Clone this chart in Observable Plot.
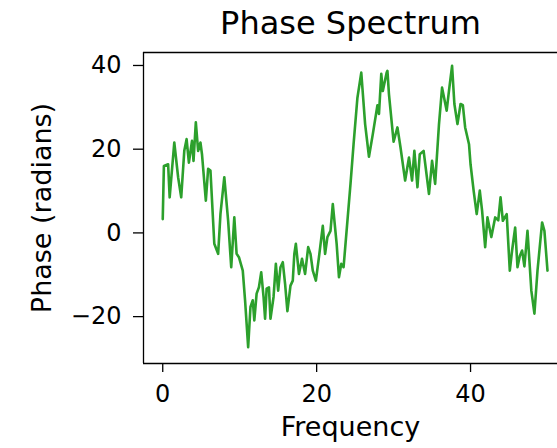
<!DOCTYPE html>
<html><head><meta charset="utf-8">
<script src="https://cdn.jsdelivr.net/npm/d3@7"></script>
<script src="https://cdn.jsdelivr.net/npm/@observablehq/plot@0.6"></script>
<style>html,body{margin:0;padding:0;background:#fff;} svg{display:block}</style>
</head><body><div id="chart"></div>
<script>
const frequency = [0.0,0.15,0.7,0.9,1.5,2.0,2.4,2.8,3.1,3.4,3.8,4.0,4.3,4.6,4.9,5.1,5.6,5.9,6.2,6.7,7.2,7.5,8.0,8.5,8.9,9.3,9.6,9.9,10.4,10.7,11.1,11.4,11.7,11.9,12.2,12.5,12.8,13.1,13.3,13.5,13.8,14.0,14.4,14.7,15.0,15.3,15.6,15.9,16.2,16.6,16.9,17.1,17.3,17.7,18.1,18.5,18.9,19.2,19.5,19.9,20.3,20.8,21.1,21.4,21.8,22.1,22.6,22.9,23.2,23.5,24.4,24.8,25.3,25.8,26.3,26.8,27.3,27.9,28.1,28.4,28.6,29.1,29.2,29.4,30.0,30.5,30.9,31.5,32.0,32.4,32.7,33.1,33.4,33.9,34.6,35.0,35.4,35.9,36.3,36.9,37.2,37.6,37.9,38.3,38.7,39.0,39.3,39.8,40.0,40.4,40.8,41.2,41.5,41.9,42.2,42.7,43.2,43.6,43.9,44.2,44.7,45.1,45.4,45.8,46.1,46.4,46.7,47.0,47.4,47.9,48.3,48.7,49.3,49.6,50.0];
const phase = [3.3,16.0,16.4,8.5,21.6,13.3,8.5,19.6,22.4,16.8,22.0,17.2,26.4,19.6,21.6,18.8,7.7,15.3,14.9,-2.6,-5.0,4.5,13.3,2.9,-8.2,3.7,-5.0,-5.8,-9.0,-16.1,-27.3,-17.7,-16.1,-20.9,-14.5,-13.0,-9.4,-15.3,-20.5,-13.3,-13.0,-20.5,-15.3,-7.4,-13.8,-8.2,-7.0,-12.2,-18.7,-12.6,-11.4,-5.0,-2.6,-9.8,-6.2,-9.8,-3.4,-5.0,-9.0,-11.4,-5.8,1.7,-5.0,-1.0,0.5,6.9,-2.6,-10.6,-7.4,-8.2,11.7,21.2,32.3,38.3,26.0,18.2,23.6,30.5,28.4,38.0,33.9,38.3,38.7,33.1,21.8,25.2,20.4,12.5,18.0,12.5,19.6,10.9,18.8,19.6,9.3,17.2,11.7,26.0,34.7,29.2,34.0,39.9,30.8,26.0,30.8,30.5,25.2,21.2,16.4,10.1,4.5,10.1,5.3,-3.4,3.7,-1.0,3.7,3.0,8.5,2.9,4.5,-9.0,-4.2,1.3,-8.2,-5.5,-4.2,-8.0,0.5,-13.8,-19.3,-9.0,2.5,0.5,-9.0];
const xTicks = [0, 20, 40];
const yTicks = [-20, 0, 20, 40];
const title = "Phase Spectrum";
const xLabel = "Frequency";
const yLabel = "Phase (radians)";

const data = frequency.map((f, i) => ({f, p: phase[i]}));
const xDomain = [-2.5, 51.3];
const yDomain = [-31.2, 43.1];
const fmt = d => (d < 0 ? "\u2212" + Math.abs(d) : String(d));

const chart = Plot.plot({
  width: 557, height: 448,
  marginLeft: 143, marginRight: 0, marginTop: 52, marginBottom: 85,
  style: {fontFamily: "DejaVu Sans", fontSize: "24px", background: "white", color: "black"},
  x: {domain: xDomain},
  y: {domain: yDomain},
  marks: [
    Plot.line(data, {x: "f", y: "p", stroke: "#2ca02c", strokeWidth: 2.6, strokeLinejoin: "round"}),
    Plot.ruleX([xDomain[0]], {stroke: "black", strokeWidth: 1.3}),
    Plot.ruleY([yDomain[0], yDomain[1]], {stroke: "black", strokeWidth: 1.3}),
    Plot.axisX({ticks: xTicks, tickFormat: fmt, tickSize: 9, tickPadding: 12, fontSize: 24, strokeWidth: 1.3, label: null}),
    Plot.axisY({ticks: yTicks, tickFormat: fmt, tickSize: 10, tickPadding: 12, fontSize: 24, strokeWidth: 1.3, label: null}),
    Plot.text([title], {frameAnchor: "top", textAnchor: "middle", lineAnchor: "bottom", dy: -19, fontSize: 32, text: d => d}),
    Plot.text([xLabel], {frameAnchor: "bottom", textAnchor: "middle", lineAnchor: "bottom", dy: 72, fontSize: 27, text: d => d}),
    Plot.text([yLabel], {frameAnchor: "left", textAnchor: "middle", lineAnchor: "bottom", rotate: -90, dx: -93, fontSize: 27, text: d => d})
  ]
});
document.getElementById("chart").appendChild(chart);
</script>
</body></html>
